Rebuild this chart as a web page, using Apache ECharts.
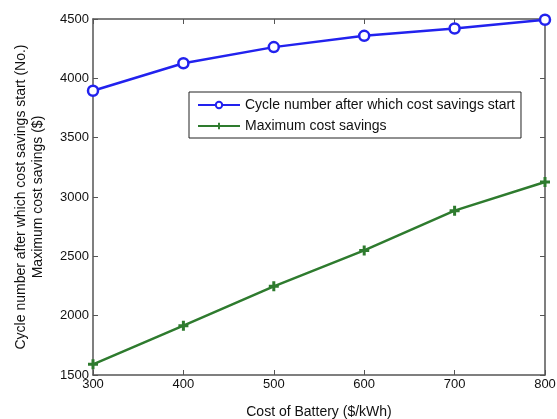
<!DOCTYPE html>
<html>
<head>
<meta charset="utf-8">
<script src="https://cdn.jsdelivr.net/npm/echarts@6/dist/echarts.min.js"></script>
<style>
  html, body { margin: 0; padding: 0; background: #fff; }
  #chart { width: 557px; height: 419px; }
</style>
</head>
<body>
<div id="chart"></div>
<script>
// Battery cost (x) and the two resulting curves
const batteryCost = [300, 400, 500, 600, 700, 800];
const cycleStart = [3895, 4127, 4263, 4358, 4420, 4494];
const maxSavings = [1590, 1916, 2247, 2550, 2885, 3126];
const yTicks = [1500, 2000, 2500, 3000, 3500, 4000, 4500];

const FONT = 'Liberation Sans, Arial, Helvetica, sans-serif';
const AXIS_COLOR = '#555';
const BLUE = '#2222ee';
const GREEN = '#2e7b2e';

const chart = echarts.init(document.getElementById('chart'), null, { renderer: 'canvas' });

const boxAxisLine = { show: true, lineStyle: { color: AXIS_COLOR, width: 1.5 } };
const boxTick = { show: true, inside: true, length: 5, lineStyle: { color: AXIS_COLOR, width: 1 } };
const plainNumber = v => String(v);

chart.setOption({
  animation: false,
  backgroundColor: '#fff',
  grid: { left: 93, right: 12, top: 19, bottom: 44, containLabel: false, outerBoundsMode: 'none' },
  legend: {
    orient: 'vertical',
    left: 189,
    top: 92,
    padding: [6, 6, 5, 8],
    itemGap: 7,
    itemWidth: 42,
    itemHeight: 8,
    borderColor: '#222',
    borderWidth: 1,
    backgroundColor: '#fff',
    textStyle: { fontFamily: FONT, fontSize: 14, color: '#111' },
    data: [
      { name: 'Cycle number after which cost savings start' },
      { name: 'Maximum cost savings' }
    ]
  },
  xAxis: [
    {
      type: 'value',
      min: 300, max: 800, interval: 100,
      name: 'Cost of Battery ($/kWh)',
      nameLocation: 'middle',
      nameGap: 30,
      nameTextStyle: { fontFamily: FONT, fontSize: 14, color: '#111' },
      axisLine: boxAxisLine,
      axisTick: boxTick,
      axisLabel: { fontFamily: FONT, fontSize: 13, color: '#111', margin: 3, formatter: plainNumber },
      splitLine: { show: false }
    },
    {
      type: 'value',
      position: 'top',
      min: 300, max: 800, interval: 100,
      axisLine: boxAxisLine,
      axisTick: boxTick,
      axisLabel: { show: false },
      splitLine: { show: false }
    }
  ],
  yAxis: [
    {
      type: 'value',
      min: yTicks[0], max: yTicks[yTicks.length - 1], interval: 500,
      name: 'Cycle number after which cost savings start (No.)\nMaximum cost savings ($)',
      nameLocation: 'middle',
      nameRotate: 90,
      nameGap: 46,
      nameTextStyle: { fontFamily: FONT, fontSize: 14, color: '#111', lineHeight: 17, align: 'center' },
      axisLine: boxAxisLine,
      axisTick: boxTick,
      axisLabel: { fontFamily: FONT, fontSize: 13, color: '#111', margin: 4, formatter: plainNumber },
      splitLine: { show: false }
    },
    {
      type: 'value',
      position: 'right',
      min: yTicks[0], max: yTicks[yTicks.length - 1], interval: 500,
      axisLine: boxAxisLine,
      axisTick: boxTick,
      axisLabel: { show: false },
      splitLine: { show: false }
    }
  ],
  series: [
    {
      name: 'Cycle number after which cost savings start',
      type: 'line',
      data: batteryCost.map((x, i) => [x, cycleStart[i]]),
      symbol: 'circle',
      symbolSize: 10,
      showAllSymbol: true,
      lineStyle: { color: BLUE, width: 2.5 },
      itemStyle: { color: '#fff', borderColor: BLUE, borderWidth: 2.5 },
      z: 3
    },
    {
      name: 'Maximum cost savings',
      type: 'line',
      data: batteryCost.map((x, i) => [x, maxSavings[i]]),
      symbol: 'path://M3.5,0 L6.5,0 L6.5,3.5 L10,3.5 L10,6.5 L6.5,6.5 L6.5,10 L3.5,10 L3.5,6.5 L0,6.5 L0,3.5 L3.5,3.5 Z',
      symbolSize: 10,
      showAllSymbol: true,
      lineStyle: { color: GREEN, width: 2.5 },
      itemStyle: { color: GREEN, borderWidth: 0 },
      z: 3
    }
  ]
});
</script>
</body>
</html>
